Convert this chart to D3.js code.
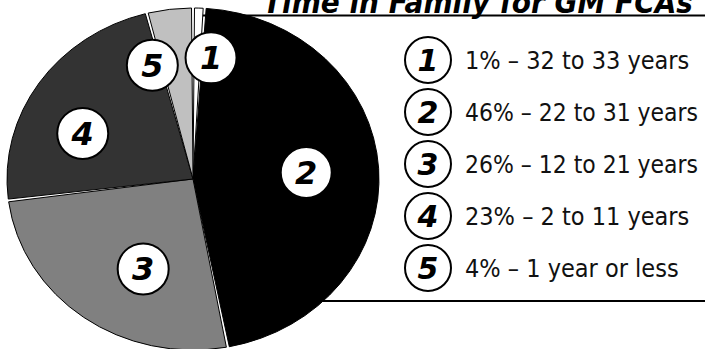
<!DOCTYPE html>
<html>
<head>
<meta charset="utf-8">
<script src="https://cdn.jsdelivr.net/npm/d3@7"></script>
<style>
  html, body { margin: 0; padding: 0; background: #fff; }
  svg { display: block; }
</style>
</head>
<body>
<svg id="chart" width="705" height="349"></svg>
<script>
// ---- data ----
const title = "Time in Family for GM FCAs";
const sliceIds = ["1", "2", "3", "4", "5"];
const percents = [1, 46, 26, 23, 4];
const ranges = ["32 to 33 years", "22 to 31 years", "12 to 21 years", "2 to 11 years", "1 year or less"];
const sliceColors = ["#ffffff", "#000000", "#808080", "#333333", "#c0c0c0"];
// label placement nudges (fraction of radius, angle shift in degrees)
const labelRadiusFrac = [0.715, 0.61, 0.59, 0.65, 0.70];
const labelAngleShift = [6, 0, -9, -10, -11];

// ---- layout ----
const W = 705, H = 349;
const cx = 193, cy = 179, rx = 186, ry = 171;
const svg = d3.select("#chart");

// legend frame lines (behind pie)
svg.append("line").attr("x1", 200).attr("x2", W).attr("y1", 15.5).attr("y2", 15.5)
  .attr("stroke", "#000").attr("stroke-width", 2);
svg.append("line").attr("x1", 250).attr("x2", W).attr("y1", 301).attr("y2", 301)
  .attr("stroke", "#000").attr("stroke-width", 2);

// title (top clipped, as in the original)
svg.append("text")
  .attr("x", 693).attr("y", 12.5)
  .attr("text-anchor", "end")
  .attr("textLength", 430).attr("lengthAdjust", "spacingAndGlyphs")
  .style("font-family", "'DejaVu Sans', Verdana, sans-serif")
  .style("font-weight", "bold").style("font-style", "italic")
  .style("font-size", "30px")
  .text(title);

// pie
const pie = d3.pie().sort(null).startAngle(0).endAngle(2 * Math.PI).value(d => d);
const arcs = pie(percents);
const arc = d3.arc().innerRadius(0).outerRadius(rx).padAngle(0.016);

const g = svg.append("g").attr("transform", `translate(${cx},${cy}) scale(1,${ry / rx})`);
g.selectAll("path.slice").data(arcs).join("path")
  .attr("class", "slice")
  .attr("d", arc)
  .attr("fill", (d, i) => sliceColors[i])
  .attr("stroke", "#000")
  .attr("stroke-width", 1)
  .attr("vector-effect", "non-scaling-stroke");

// slice labels
const numFont = "'DejaVu Sans', Verdana, sans-serif";
arcs.forEach((d, i) => {
  const mid = (d.startAngle + d.endAngle) / 2 + labelAngleShift[i] * Math.PI / 180;
  const r = rx * labelRadiusFrac[i];
  const x = cx + r * Math.sin(mid);
  const y = cy - r * Math.cos(mid) * (ry / rx);
  const lg = svg.append("g").attr("transform", `translate(${x},${y})`);
  lg.append("circle").attr("r", 25.5).attr("fill", "#fff").attr("stroke", "#000").attr("stroke-width", 2);
  lg.append("text").attr("text-anchor", "middle").attr("dy", "0.36em")
    .style("font-family", numFont).style("font-weight", "bold").style("font-style", "italic")
    .style("font-size", "32px").text(sliceIds[i]);
});

// legend
const legX = 428, legTextX = 37, maxTextW = 233;
const legY = d3.scalePoint().domain(sliceIds).range([60, 268]);
const leg = svg.selectAll("g.leg").data(sliceIds).join("g")
  .attr("class", "leg")
  .attr("transform", d => `translate(${legX},${legY(d)})`);
leg.append("circle").attr("r", 23).attr("fill", "#fff").attr("stroke", "#000").attr("stroke-width", 2);
leg.append("text").attr("text-anchor", "middle").attr("dy", "0.36em")
  .style("font-family", numFont).style("font-weight", "bold").style("font-style", "italic")
  .style("font-size", "30px").text(d => d);
leg.append("text").attr("x", legTextX).attr("dy", "0.36em")
  .style("font-family", "'DejaVu Sans Condensed', 'DejaVu Sans', sans-serif")
  .style("font-stretch", "condensed")
  .style("font-size", "25px").style("fill", "#111")
  .text((d, i) => `${percents[i]}% \u2013 ${ranges[i]}`)
  .each(function () {
    const w = this.getComputedTextLength();
    if (w > maxTextW) {
      d3.select(this).attr("textLength", maxTextW).attr("lengthAdjust", "spacingAndGlyphs");
    }
  });
</script>
</body>
</html>
